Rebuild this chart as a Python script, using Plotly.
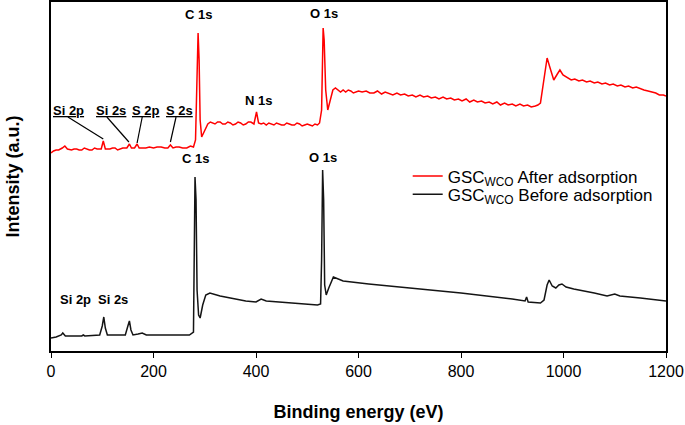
import plotly.graph_objects as go

# ---------------- data (binding energy in eV, intensity in arbitrary units) ----------------
before_ev = [0, 10, 20, 23, 28, 60, 63, 66, 95, 100, 103, 106, 110, 145, 150, 153, 156, 160, 170, 178, 186,
             270, 278, 280, 281, 283, 285, 288, 291, 296, 302, 310, 330, 380, 400, 410, 420, 470, 520, 526,
             528, 530, 532, 534, 537, 542, 551, 570, 620, 700, 800, 900, 925, 928, 931, 955, 962, 968, 972,
             978, 985, 991, 997, 1005, 1020, 1060, 1085, 1100, 1110, 1150, 1200]
before_int = [13, 14, 16, 18, 15, 15, 16, 15, 16, 25, 34, 23, 16, 16, 25, 30, 21, 16, 17, 18, 16,
              16, 19, 101, 174, 151, 61, 36, 33, 46, 56, 58, 55, 50, 49, 52, 50, 48, 46, 47,
              91, 181, 151, 66, 56, 63, 74, 70, 67, 63, 58, 52, 50, 54, 49, 48, 51, 66, 71,
              65, 63, 66, 67, 64, 62, 58, 55, 57, 55, 53, 50]

after_ev = [0, 5, 10, 15, 22, 27, 32, 40, 45, 50, 55, 60, 65, 70, 75, 80, 85, 90, 98, 102, 106, 110, 115, 120,
            125, 130, 135, 140, 148, 153, 157, 163, 168, 172, 178, 185, 192, 200, 207, 215, 222, 228, 233,
            238, 244, 250, 257, 265, 272, 278, 282, 285, 287, 289, 291, 294, 300, 306, 311, 316, 320, 325,
            330, 335, 340, 345, 350, 355, 360, 365, 370, 375, 380, 385, 390, 396, 401, 405, 410, 415, 420,
            425, 430, 435, 440, 445, 450, 455, 460, 465, 470, 475, 480, 485, 490, 495, 500, 505, 510, 515,
            520, 524, 528, 531, 533, 536, 540, 545, 550, 555, 560, 565, 570, 575, 580, 585, 590, 600, 607,
            615, 622, 630, 637, 645, 652, 660, 667, 675, 682, 690, 697, 705, 712, 720, 727, 735, 742, 750,
            757, 765, 772, 780, 787, 795, 802, 810, 817, 825, 832, 840, 847, 855, 862, 870, 877, 885, 892,
            900, 907, 915, 922, 930, 937, 945, 950, 955, 962, 968, 975, 981, 988, 993, 999, 1005, 1010,
            1015, 1022, 1030, 1037, 1045, 1052, 1060, 1067, 1075, 1082, 1090, 1097, 1105, 1112, 1120,
            1127, 1135, 1142, 1150, 1157, 1165, 1172, 1180, 1187, 1195, 1200]
after_int = [198, 200, 201, 201, 203, 205, 202, 201, 202, 202, 201, 201, 203, 202, 201, 201, 203, 202, 202, 210,
             202, 202, 202, 203, 203, 201, 202, 203, 203, 207, 203, 203, 207, 203, 203, 203, 204, 203, 204,
             204, 203, 203, 206, 203, 204, 204, 203, 203, 205, 204, 211, 291, 318, 291, 231, 214, 221, 227,
             229, 228, 227, 229, 229, 227, 227, 229, 228, 226, 227, 229, 228, 226, 227, 229, 229, 227, 239,
             228, 227, 228, 226, 228, 227, 226, 228, 227, 226, 226, 228, 227, 226, 226, 228, 227, 225, 226,
             227, 226, 225, 227, 226, 228, 241, 323, 311, 261, 241, 251, 261, 263, 261, 259, 261, 259, 261,
             260, 258, 260, 259, 260, 258, 258, 260, 257, 259, 257, 256, 258, 256, 257, 255, 256, 254, 256,
             254, 255, 253, 254, 252, 254, 252, 253, 251, 252, 250, 252, 249, 251, 249, 250, 248, 249, 247,
             249, 246, 248, 246, 247, 245, 247, 245, 246, 244, 245, 246, 248, 271, 293, 281, 271, 277, 281,
             276, 274, 273, 271, 272, 270, 271, 269, 270, 268, 269, 267, 268, 266, 267, 265, 266, 264, 265,
             263, 264, 262, 261, 260, 259, 258, 256, 256, 255]

series_names = ["GSC<sub>WCO</sub> After adsorption", "GSC<sub>WCO</sub> Before adsorption"]
x_ticks = [0, 200, 400, 600, 800, 1000, 1200]

# peak labels: (text, energy, intensity level)
after_labels = [("C 1s", 287, 337), ("O 1s", 532, 338), ("N 1s", 405, 251)]
after_minor = [("Si 2p", 35, 241, 33, 234, 102, 212),
               ("Si 2s", 117, 241, 109, 234, 152, 209),
               ("S 2p", 186, 241, 178, 234, 168, 208),
               ("S 2s", 250, 241, 244, 234, 233, 209)]
before_labels = [("C 1s", 281, 193), ("O 1s", 530, 194), ("Si 2p", 47, 52), ("Si 2s", 121, 52)]

FONT = "Liberation Sans, Arial, sans-serif"

fig = go.Figure()
fig.add_trace(go.Scatter(x=after_ev, y=after_int, mode="lines", name=series_names[0],
                         line=dict(color="#ff0000", width=1.5), legend="legend", showlegend=True))
fig.add_trace(go.Scatter(x=before_ev, y=before_int, mode="lines", name=series_names[1],
                         line=dict(color="#141414", width=1.5), legend="legend2", showlegend=True))

annotations = []
for t, xe, yv in after_labels + before_labels:
    annotations.append(dict(x=xe, y=yv, text=f"<b>{t}</b>", showarrow=False,
                            font=dict(family=FONT, size=13, color="black")))
shapes = []
for t, xe, yv, x0, y0, x1, y1 in after_minor:
    annotations.append(dict(x=xe, y=yv, text=f"<b><u>{t}</u></b>", showarrow=False,
                            font=dict(family=FONT, size=13, color="black")))
    shapes.append(dict(type="line", x0=x0, y0=y0, x1=x1, y1=y1, xref="x", yref="y",
                       line=dict(color="black", width=1.2)))

legend_style = dict(xanchor="left", yanchor="middle", bgcolor="rgba(0,0,0,0)",
                    font=dict(family=FONT, size=17, color="black"))

fig.update_layout(
    width=685, height=425,
    showlegend=True,
    margin=dict(l=51, r=19, t=2, b=74, autoexpand=False),
    plot_bgcolor="white", paper_bgcolor="white",
    font=dict(family=FONT, color="black"),
    annotations=annotations, shapes=shapes,
    legend=dict(x=0.58, y=0.50, **legend_style),
    legend2=dict(x=0.58, y=0.448, **legend_style),
    xaxis=dict(range=[0, 1200], tickvals=x_ticks, ticks="outside", ticklen=5, tickcolor="black",
               showline=True, linecolor="black", linewidth=1.5, mirror=True, showgrid=False,
               zeroline=False, automargin=False, tickfont=dict(family=FONT, size=16, color="black"),
               title=dict(text="<b>Binding energy (eV)</b>", font=dict(family=FONT, size=18), standoff=26)),
    yaxis=dict(range=[0, 349], showticklabels=False, ticks="", showline=True, linecolor="black",
               linewidth=1.5, mirror=True, showgrid=False, zeroline=False, automargin=False,
               title=dict(text="<b>Intensity (a.u.)</b>", font=dict(family=FONT, size=18), standoff=25)),
)

fig.write_html("out.html", config={"displayModeBar": False},
               post_script="document.body.style.margin='0';")
